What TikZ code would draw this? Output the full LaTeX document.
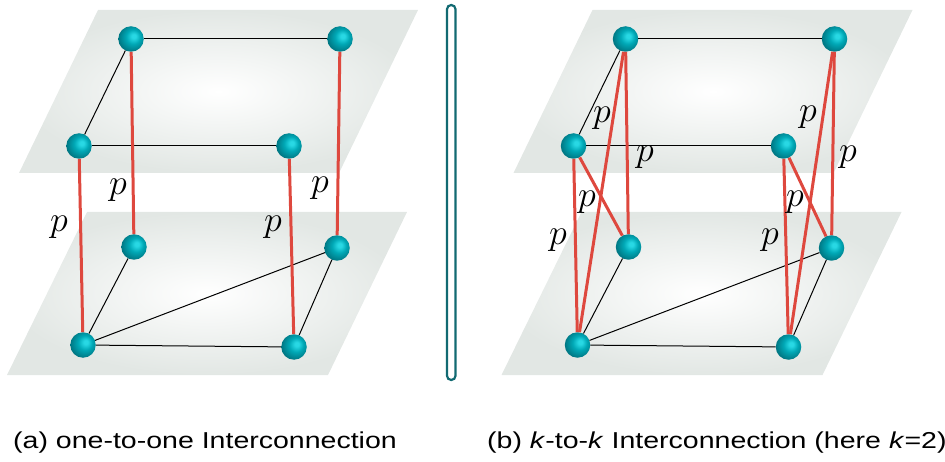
\RequirePackage{fix-cm}
\documentclass[tikz,border=0pt]{standalone}
\usepackage{fontspec}
\setmainfont{Liberation Sans}
\usepackage{graphicx}
\definecolor{planegray}{RGB}{226,231,228}
\definecolor{linkred}{RGB}{222,72,62}
\definecolor{divteal}{RGB}{18,106,114}
\definecolor{ballhi}{RGB}{40,216,228}
\definecolor{ballmid}{RGB}{0,168,182}
\definecolor{balldark}{RGB}{0,118,130}
\pgfdeclareradialshading{nodeball}{\pgfqpoint{6bp}{6bp}}{color(0bp)=(ballhi); color(4bp)=(ballhi); color(14bp)=(ballmid); color(28bp)=(balldark); color(50bp)=(balldark)}
\tikzset{
  plane/.style={inner color=white, outer color=planegray},
  ballnode/.style={circle, inner sep=0pt, minimum size=25.5pt, shade, shading=nodeball},
  link/.style={line width=1pt, black},
  redlink/.style={line width=3pt, linkred},
  plabel/.style={inner sep=0pt, font=\fontsize{36}{40}\selectfont},
  captext/.style={anchor=base west, inner sep=0pt, font=\fontsize{23}{27}\selectfont},
  divider/.style={draw=divteal, line width=2.2pt, rounded corners=4.2pt}
}
\begin{document}
\begin{tikzpicture}[x=1pt, y=-1pt]
\useasboundingbox (0,0) rectangle (945,462);
% planes
\shade[plane] (98,10) -- (418,10) -- (339,173) -- (19,173) -- cycle;
\shade[plane] (87,212) -- (407,212) -- (328,375) -- (7,375) -- cycle;
\shade[plane] (592.5,10) -- (912.5,10) -- (833.5,173) -- (513.5,173) -- cycle;
\shade[plane] (581.5,212) -- (901.5,212) -- (822.5,375) -- (501.5,375) -- cycle;
% divider
\draw[divider] (447,5) rectangle (455.5,380);
% left panel nodes
\node[ballnode] (la1) at (131,39) {};
\node[ballnode] (la2) at (340,39) {};
\node[ballnode] (la3) at (79,146) {};
\node[ballnode] (la4) at (289,146) {};
\node[ballnode] (lb1) at (134,247) {};
\node[ballnode] (lb2) at (337,248) {};
\node[ballnode] (lb3) at (83,345) {};
\node[ballnode] (lb4) at (294,347) {};
% right panel nodes
\node[ballnode] (ra1) at (625.5,39) {};
\node[ballnode] (ra2) at (834.5,39) {};
\node[ballnode] (ra3) at (573.5,146) {};
\node[ballnode] (ra4) at (783.5,146) {};
\node[ballnode] (rb1) at (628.5,247) {};
\node[ballnode] (rb2) at (831.5,248) {};
\node[ballnode] (rb3) at (577.5,345) {};
\node[ballnode] (rb4) at (788.5,347) {};
% connectors
\draw[link] (la1) -- (la2);
\draw[link] (la1) -- (la3);
\draw[link] (la3) -- (la4);
\draw[link] (lb1) -- (lb3);
\draw[link] (lb3) -- (lb4);
\draw[link] (lb3) -- (lb2);
\draw[link] (lb2) -- (lb4);
\draw[redlink] (la1) -- (lb1);
\draw[redlink] (la3) -- (lb3);
\draw[redlink] (la4) -- (lb4);
\draw[redlink] (la2) -- (lb2);
\draw[link] (ra1) -- (ra2);
\draw[link] (ra1) -- (ra3);
\draw[link] (ra3) -- (ra4);
\draw[link] (rb1) -- (rb3);
\draw[link] (rb3) -- (rb4);
\draw[link] (rb3) -- (rb2);
\draw[link] (rb2) -- (rb4);
\draw[redlink] (ra1) -- (rb1);
\draw[redlink] (ra1) -- (rb3);
\draw[redlink] (ra3) -- (rb3);
\draw[redlink] (ra3) -- (rb1);
\draw[redlink] (ra4) -- (rb4);
\draw[redlink] (ra4) -- (rb2);
\draw[redlink] (ra2) -- (rb2);
\draw[redlink] (ra2) -- (rb4);
% labels
\node[plabel] (lp1) at (118,190) {$p$};
\node[plabel] (lp2) at (59,227) {$p$};
\node[plabel] (lp3) at (273,227) {$p$};
\node[plabel] (lp4) at (320,188) {$p$};
\node[plabel] (rp1) at (602,118) {$p$};
\node[plabel] (rp2) at (645,157) {$p$};
\node[plabel] (rp3) at (587,202) {$p$};
\node[plabel] (rp4) at (558,240) {$p$};
\node[plabel] (rp5) at (808,117) {$p$};
\node[plabel] (rp6) at (848,157) {$p$};
\node[plabel] (rp7) at (795,202) {$p$};
\node[plabel] (rp8) at (770,240) {$p$};
% captions
\node[captext] (capa) at (13,448) {\scalebox{1.24}[1]{(a) one-to-one Interconnection}};
\node[captext] (capb) at (487,448) {\scalebox{1.24}[1]{(b) \textit{k}-to-\textit{k} Interconnection (here \textit{k}=2)}};
\end{tikzpicture}
\end{document}
